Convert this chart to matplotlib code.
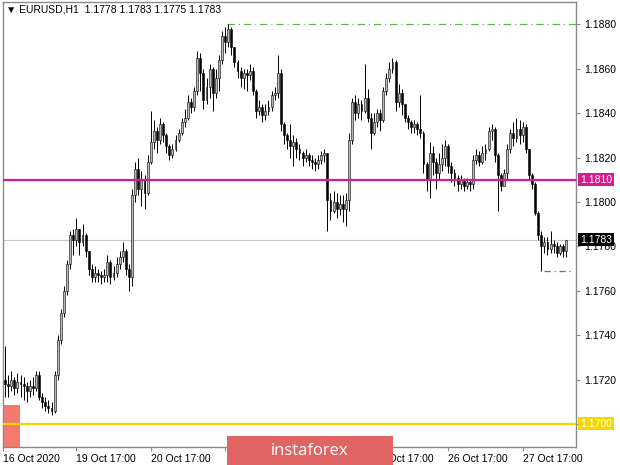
import matplotlib
matplotlib.use('Agg')
import matplotlib.pyplot as plt
from matplotlib.patches import Rectangle
import numpy as np

# EURUSD H1, prices in pips above 1.1700
base = 1.1700
first_open = 20
close_pips = [18, 17, 20, 16, 19, 18, 17, 15, 17, 16,
              22, 12, 10, 8, 7, 6, 22, 38, 50, 60,
              72, 85, 83, 88, 82, 85, 78, 70, 66, 68,
              67, 66, 67, 73, 66, 68, 72, 75, 78, 70,
              66, 103, 115, 106, 110, 104, 118, 127, 132, 128,
              135, 130, 125, 121, 124, 128, 131, 136, 138, 145,
              143, 150, 165, 158, 146, 152, 160, 149, 156, 164,
              175, 172, 178, 170, 163, 159, 156, 158, 157, 159,
              150, 141, 143, 139, 141, 143, 148, 149, 158, 135,
              130, 128, 125, 127, 124, 122, 120, 121, 119, 118,
              117, 119, 121, 122, 101, 96, 100, 97, 99, 97,
              101, 128, 145, 140, 144, 141, 147, 138, 131, 136,
              140, 137, 150, 156, 160, 163, 145, 149, 144, 138,
              136, 134, 135, 133, 131, 117, 110, 122, 118, 113,
              117, 120, 125, 116, 113, 111, 108, 110, 107, 109,
              108, 119, 121, 118, 122, 124, 132, 133, 121, 112,
              107, 113, 124, 131, 129, 133, 130, 134, 124, 112,
              108, 95, 85, 80, 82, 79, 81, 80, 77, 80, 78, 83]
high_pips = [35, 22, 24, 21, 23, 22, 21, 19, 20, 21,
             24, 24, 14, 12, 11, 10, 24, 40, 52, 62,
             74, 87, 88, 93, 88, 90, 86, 78, 72, 71,
             70, 69, 70, 76, 74, 71, 75, 78, 82, 79,
             72, 106, 118, 120, 114, 112, 121, 141, 137, 134,
             138, 136, 131, 126, 126, 130, 133, 138, 142, 148,
             147, 152, 168, 167, 160, 156, 162, 161, 160, 166,
             177, 179, 180, 179, 170, 164, 161, 160, 160, 162,
             161, 151, 146, 144, 144, 146, 150, 152, 166, 160,
             136, 131, 135, 130, 129, 126, 123, 124, 122, 121,
             120, 121, 123, 124, 122, 104, 105, 104, 103, 103,
             104, 131, 147, 148, 147, 146, 162, 151, 140, 140,
             142, 142, 152, 158, 163, 165, 164, 153, 151, 141,
             139, 137, 137, 136, 148, 132, 118, 127, 125, 120,
             122, 126, 128, 126, 118, 115, 112, 112, 111, 111,
             110, 121, 124, 123, 125, 126, 134, 135, 134, 122,
             113, 115, 126, 133, 136, 138, 137, 136, 135, 124,
             113, 109, 96, 87, 84, 84, 87, 83, 82, 81, 81, 83]
low_pips = [12, 12, 15, 13, 14, 12, 11, 10, 12, 13,
            15, 11, 7, 6, 5, 4, 5, 20, 36, 48,
            58, 70, 76, 80, 76, 80, 75, 67, 64, 64,
            64, 63, 64, 64, 63, 65, 66, 70, 73, 67,
            60, 62, 100, 103, 98, 97, 103, 117, 124, 122,
            126, 127, 122, 119, 120, 123, 127, 130, 134, 137,
            140, 141, 148, 150, 142, 144, 147, 141, 147, 150,
            162, 167, 170, 166, 161, 156, 152, 151, 150, 155,
            148, 138, 139, 136, 137, 139, 141, 146, 147, 132,
            126, 124, 120, 116, 120, 119, 116, 118, 116, 115,
            114, 115, 117, 118, 87, 92, 95, 93, 94, 91,
            89, 96, 126, 137, 138, 137, 140, 136, 124, 130,
            134, 132, 136, 148, 154, 158, 141, 143, 139, 136,
            133, 131, 131, 130, 129, 113, 105, 102, 112, 106,
            110, 114, 116, 113, 109, 107, 105, 106, 105, 106,
            105, 106, 117, 116, 117, 119, 123, 128, 118, 96,
            105, 108, 110, 122, 125, 127, 126, 127, 122, 110,
            106, 94, 83, 69, 77, 76, 77, 77, 75, 76, 75, 75]

# 21/22 Oct labels sit under the watermark, so only their ticks show
tick_bars = [-0.5, 23, 47, 71, 95, 119, 143, 167]
tick_text = ['16 Oct 2020', '19 Oct 17:00', '20 Oct 17:00', '',
             '', '23 Oct 17:00', '26 Oct 17:00', '27 Oct 17:00']
price_ticks = [1.1700, 1.1720, 1.1740, 1.1760, 1.1780, 1.1800, 1.1820, 1.1840, 1.1860, 1.1880]

support = 1.1700
pivot = 1.1810
top_level = 1.1880
last_price = 1.1783

c = base + np.array(close_pips) / 10000
h = base + np.array(high_pips) / 10000
l = base + np.array(low_pips) / 10000
o = np.concatenate(([base + first_open / 10000], c[:-1]))
x = np.arange(len(c))

plt.rcParams['font.family'] = ['Liberation Sans', 'DejaVu Sans']

fig = plt.figure(figsize=(6.2, 4.65), dpi=100)
ax = fig.add_axes([3 / 620, 18 / 465, 573 / 620, 445 / 465])
ax.set_xlim(-0.65, 184.2)
ax.set_ylim(1.16896, 1.18901)

# salmon box bottom-left
ax.add_patch(Rectangle((-0.65, 1.16896), 5.5, 1.17086 - 1.16896,
                       facecolor='#F47A6E', edgecolor='none', zorder=1))

# horizontal levels
ax.axhline(last_price, color='#C8C8C8', lw=0.8, zorder=1)
ax.axhline(pivot, color='#D81B8C', lw=1.6, zorder=4)
ax.axhline(support, color='#F5D800', lw=1.6, zorder=4)
i_top = int(np.argmax(h))
ax.plot([i_top - 0.5, 184.2], [top_level, top_level], color='#5DB84A',
        lw=0.9, ls=(0, (6, 3, 1, 3)), zorder=2)
i_low = len(l) - 20 + int(np.argmin(l[-20:]))
ax.plot([i_low + 1, len(c) + 1], [l[i_low], l[i_low]], color='#3A9A2A',
        lw=0.9, ls=(0, (5, 3, 1, 3)), zorder=2)

# candles
up = c >= o
ax.vlines(x, l, h, color='black', lw=0.7, zorder=3)
ax.bar(x[up], (c - o)[up], bottom=o[up], width=0.62, facecolor='#B8B8B8',
       edgecolor='black', lw=0.4, zorder=3)
ax.bar(x[~up], (c - o)[~up], bottom=o[~up], width=0.62, facecolor='black',
       edgecolor='black', lw=0.4, zorder=3)

for s in ax.spines.values():
    s.set_color('#8A8A8A')
    s.set_linewidth(1)

ax.yaxis.tick_right()
ax.set_yticks(price_ticks)
ax.set_yticklabels(['' if p == support else f'{p:.4f}' for p in price_ticks])
ax.tick_params(axis='y', direction='out', length=3, width=0.8, colors='#8A8A8A',
               labelcolor='black', labelsize=7.5, pad=3)
ax.set_xticks(tick_bars)
ax.set_xticklabels(tick_text)
ax.tick_params(axis='x', direction='out', length=3, width=0.8, colors='#8A8A8A',
               labelcolor='black', labelsize=7.5, pad=2)
for lab in ax.get_xticklabels():
    lab.set_ha('left')

# price tags on right scale
ytr = ax.get_yaxis_transform()
tag_h = 0.00029
for val, bg in [(pivot, '#D81B8C'), (last_price, 'black'), (support, '#F5D800')]:
    ax.add_patch(Rectangle((1.0035, val - tag_h), 36 / 573, 2 * tag_h, transform=ytr,
                           facecolor=bg, edgecolor='none', clip_on=False, zorder=9))
    ax.text(1.0035 + 18 / 573, val, f'{val:.4f}', transform=ytr,
            ha='center', va='center', fontsize=7.5, color='white', zorder=10,
            clip_on=False)

fig.text(6 / 620, 1 - 10 / 465, '\u25bc EURUSD,H1  1.1778 1.1783 1.1775 1.1783',
         fontsize=7.5, va='center', ha='left', family=['Liberation Sans', 'DejaVu Sans'])

# watermark
fig.patches.append(Rectangle((227 / 620, 0), 166 / 620, 29 / 465,
                             transform=fig.transFigure, facecolor='#E06464',
                             edgecolor='none', zorder=20))
fig.text(310 / 620, 14 / 465, 'instaforex', color='white', fontsize=12,
         family='Open Sans', ha='center', va='center', zorder=21)

fig.savefig('out.png', dpi=100)
